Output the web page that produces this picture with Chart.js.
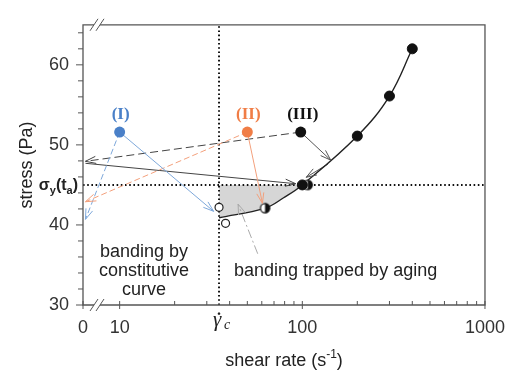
<!DOCTYPE html>
<html>
<head>
<meta charset="utf-8">
<script src="https://cdn.jsdelivr.net/npm/chart.js@4/dist/chart.umd.min.js"></script>
<style>
  html, body { margin: 0; padding: 0; background: #fff; }
</style>
</head>
<body>
<canvas id="flowChart" width="517" height="374"></canvas>
<script>
// ---- data ----
const X0 = 6.3;            // where "0" sits on the broken log axis
const GAMMA_C = 35;        // critical shear rate
const SIGMA_Y = 45;        // yield stress after aging time ta

const xTickValues = [X0, 10, 100, 1000];
const xTickLabels = ['0', '10', '100', '1000'];
const xMinorTicks = [20, 30, 40, 50, 60, 70, 80, 90, 200, 300, 400, 500, 600, 700, 800, 900];
const yTickValues = [30, 40, 50, 60];
const yMinorTicks = [32, 34, 36, 38, 42, 44, 46, 48, 52, 54, 56, 58, 62, 64];

// flow curve
const curveRate   = [35, 62.5, 79, 100, 200, 300, 400];
const curveStress = [40.9, 42.1, 43.4, 45, 51.1, 56.1, 62];
// part of the curve under sigma_y (shaded)
const shadeRate   = [35, 62.5, 79, 100];
const shadeStress = [40.9, 42.1, 43.4, 45];

const filledRate   = [100, 200, 300, 400];
const filledStress = [45, 51.1, 56.1, 62];
const halfRate     = [62.5, 107];
const halfStress   = [42.1, 45];
const openRate     = [35, 38];
const openStress   = [42.2, 40.2];

// starting states (I), (II), (III)
const startRate   = [10, 50, 98];
const startStress = [51.6, 51.6, 51.6];
const startLabels = ['(I)', '(II)', '(III)'];

// arrow paths: [fromRate, fromStress, toRate, toStress], head at "to"
const pathIsolid    = [10, 51.6, 32.7, 41.7];
const pathIdash     = [10, 51.6, 6.5, 40.7];
const pathIIsolid   = [50, 51.6, 60.5, 42.7];
const pathIIdash    = [50, 51.6, 6.5, 42.9];
const pathIIIsolid  = [98, 51.6, 143, 48.1];
const pathIIIdash   = [98, 51.6, 6.5, 47.95];
const pathAlong     = [138, 47.6, 105, 45.95];
const pathBack      = [6.5, 47.7, 92, 45.15];
const pathAging     = [57, 36.4, 44.5, 42.6];

const FONT = '"Liberation Sans", Arial, sans-serif';
const SERIF = '"Liberation Serif", "Times New Roman", serif';
const BLUE = '#4a80c8', BLUE_L = '#7ea8da';
const ORANGE = '#f07d46', ORANGE_L = '#f3a07c';

const pts = (xs, ys) => xs.map((x, i) => ({ x: x, y: ys[i] }));

function halfDot(r) {
    const c = document.createElement('canvas');
    const s = 2 * r + 3;
    c.width = s; c.height = s;
    const g = c.getContext('2d');
    const m = s / 2;
    g.fillStyle = '#fff';
    g.beginPath(); g.arc(m, m, r, 0, Math.PI * 2); g.fill();
    g.fillStyle = '#111';
    g.beginPath(); g.moveTo(m, m); g.arc(m, m, r, -Math.PI / 2, Math.PI / 2); g.closePath(); g.fill();
    g.strokeStyle = '#111'; g.lineWidth = 1.2;
    g.beginPath(); g.arc(m, m, r - 0.4, 0, Math.PI * 2); g.stroke();
    return c;
}

function arrowSet(path, color, dash, width) {
    return {
        data: [{ x: path[0], y: path[1] }, { x: path[2], y: path[3] }],
        borderColor: color, borderWidth: width || 1, borderDash: dash,
        pointRadius: 0, fill: false, tension: 0, clip: false, order: 6,
        arrowHead: true
    };
}

const arrowPlugin = {
    id: 'arrowHeads',
    afterDatasetsDraw(chart) {
        const ctx = chart.ctx;
        chart.data.datasets.forEach((ds, i) => {
            if (!ds.arrowHead) return;
            const d = chart.getDatasetMeta(i).data;
            const a = d[0], b = d[d.length - 1];
            const ang = Math.atan2(b.y - a.y, b.x - a.x);
            const L = 11;
            ctx.save();
            ctx.strokeStyle = ds.borderColor;
            ctx.lineWidth = 1;
            ctx.setLineDash([]);
            [-0.33, 0.33].forEach(da => {
                ctx.beginPath();
                ctx.moveTo(b.x, b.y);
                ctx.lineTo(b.x - L * Math.cos(ang + da), b.y - L * Math.sin(ang + da));
                ctx.stroke();
            });
            ctx.restore();
        });
    }
};

const framePlugin = {
    id: 'frame',
    afterDraw(chart) {
        const ctx = chart.ctx;
        const { left: L, right: R, top: T, bottom: B } = chart.chartArea;
        const xs = chart.scales.x, ys = chart.scales.y;
        ctx.save();
        ctx.strokeStyle = '#555';
        ctx.lineWidth = 1.3;
        ctx.setLineDash([]);
        ctx.beginPath();
        ctx.moveTo(L, T); ctx.lineTo(R, T); ctx.lineTo(R, B); ctx.lineTo(L, B); ctx.closePath();
        ctx.stroke();

        // y ticks (outside)
        ctx.lineWidth = 1;
        yTickValues.forEach(v => {
            const y = ys.getPixelForValue(v);
            ctx.beginPath(); ctx.moveTo(L - 7, y); ctx.lineTo(L, y); ctx.stroke();
        });
        yMinorTicks.forEach(v => {
            const y = ys.getPixelForValue(v);
            ctx.beginPath(); ctx.moveTo(L - 5, y); ctx.lineTo(L, y); ctx.stroke();
        });
        // x ticks
        xTickValues.forEach(v => {
            const x = xs.getPixelForValue(v);
            ctx.beginPath(); ctx.moveTo(x, B - 4); ctx.lineTo(x, B + 4); ctx.stroke();
        });
        xMinorTicks.forEach(v => {
            const x = xs.getPixelForValue(v);
            ctx.beginPath(); ctx.moveTo(x, B - 4); ctx.lineTo(x, B); ctx.stroke();
        });

        // axis break marks
        [T, B].forEach(y => {
            ctx.fillStyle = '#fff';
            ctx.fillRect(L + 11, y - 2, 6, 4);
            ctx.beginPath();
            ctx.moveTo(L + 7, y + 6); ctx.lineTo(L + 15, y - 6);
            ctx.moveTo(L + 13, y + 6); ctx.lineTo(L + 21, y - 6);
            ctx.stroke();
        });

        // axis titles
        ctx.fillStyle = '#222';
        ctx.font = '18px ' + FONT;
        ctx.textAlign = 'center';
        ctx.textBaseline = 'middle';
        ctx.save();
        ctx.translate(27, (T + B) / 2);
        ctx.rotate(-Math.PI / 2);
        ctx.fillText('stress (Pa)', 0, 0);
        ctx.restore();

        const t1 = 'shear rate (s', sup = '-1', t2 = ')';
        ctx.font = '18px ' + FONT;
        const w1 = ctx.measureText(t1).width, w3 = ctx.measureText(t2).width;
        ctx.font = '12px ' + FONT;
        const w2 = ctx.measureText(sup).width;
        let x = (L + R) / 2 - (w1 + w2 + w3) / 2;
        ctx.textAlign = 'left';
        ctx.textBaseline = 'alphabetic';
        ctx.font = '18px ' + FONT;
        ctx.fillText(t1, x, 366);
        ctx.font = '12px ' + FONT;
        ctx.fillText(sup, x + w1, 358);
        ctx.font = '18px ' + FONT;
        ctx.fillText(t2, x + w1 + w2, 366);

        // sigma_y(t_a) label
        const sy = ys.getPixelForValue(SIGMA_Y);
        const parts = [['\u03c3', 16, 0], ['y', 11, 4], ['(t', 16, 0], ['a', 11, 4], [')', 16, 0]];
        let tw = 0;
        parts.forEach(p => { ctx.font = 'bold ' + p[1] + 'px ' + FONT; tw += ctx.measureText(p[0]).width; });
        x = L - 5 - tw;
        parts.forEach(p => {
            ctx.font = 'bold ' + p[1] + 'px ' + FONT;
            ctx.fillText(p[0], x, sy + 5 + p[2]);
            x += ctx.measureText(p[0]).width;
        });

        // gamma_c label under the axis (gamma with a dot above, subscript c)
        const gx = xs.getPixelForValue(GAMMA_C);
        ctx.font = 'italic 21px ' + SERIF;
        ctx.textAlign = 'center';
        ctx.fillText('\u03b3', gx - 2, 326);
        ctx.font = 'bold 16px ' + SERIF;
        ctx.fillText('.', gx, 315);
        ctx.font = 'italic 14px ' + SERIF;
        ctx.textAlign = 'left';
        ctx.fillText('c', gx + 5, 329);

        // state labels
        ctx.font = 'bold 17px ' + SERIF;
        ctx.textAlign = 'center';
        ctx.textBaseline = 'middle';
        const labelColors = [BLUE, ORANGE, '#111'];
        startLabels.forEach((s, i) => {
            ctx.fillStyle = labelColors[i];
            ctx.fillText(s, xs.getPixelForValue(startRate[i]) + (i === 2 ? 2 : 1), ys.getPixelForValue(startStress[i]) - 17);
        });

        // region texts
        ctx.fillStyle = '#222';
        ctx.font = '18px ' + FONT;
        ctx.fillText('banding by', 144, 252);
        ctx.fillText('constitutive', 144, 271);
        ctx.fillText('curve', 144, 290);
        ctx.textAlign = 'left';
        ctx.fillText('banding trapped by aging', 234, 271);
        ctx.restore();
    }
};

const datasets = [
    // start states
    {
        data: pts(startRate, startStress), showLine: false, order: 0,
        pointRadius: 5.5, pointBorderWidth: 0,
        pointBackgroundColor: [BLUE, ORANGE, '#111'], pointBorderColor: [BLUE, ORANGE, '#111']
    },
    {
        data: pts(filledRate, filledStress), showLine: false, order: 1,
        pointRadius: 5, pointBackgroundColor: '#111', pointBorderColor: '#111'
    },
    {
        data: pts(halfRate, halfStress), showLine: false, order: 1,
        pointStyle: halfDot(5), pointRadius: 5
    },
    {
        data: pts(openRate, openStress), showLine: false, order: 2,
        pointRadius: 4, pointBackgroundColor: '#fff', pointBorderColor: '#222', pointBorderWidth: 1.2
    },
    // flow curve
    {
        data: pts(curveRate, curveStress), order: 5, borderColor: '#222', borderWidth: 1.4,
        pointRadius: 0, tension: 0.4, fill: false
    },
    // arrows
    arrowSet(pathIsolid, BLUE_L, []),
    arrowSet(pathIdash, BLUE_L, [6, 3]),
    arrowSet(pathIIsolid, ORANGE_L, []),
    arrowSet(pathIIdash, ORANGE_L, [6, 3]),
    arrowSet(pathIIIsolid, '#555', []),
    arrowSet(pathIIIdash, '#444', [8, 4]),
    arrowSet(pathAlong, '#555', []),
    arrowSet(pathBack, '#444', []),
    arrowSet(pathAging, '#aaa', [9, 3, 2, 3]),
    // reference dotted lines
    {
        data: [{ x: X0, y: SIGMA_Y }, { x: 1000, y: SIGMA_Y }], order: 8,
        borderColor: '#111', borderWidth: 2, borderDash: [1.6, 2.6], pointRadius: 0, fill: false
    },
    {
        data: [{ x: GAMMA_C, y: 30 }, { x: GAMMA_C, y: 65 }], order: 8,
        borderColor: '#111', borderWidth: 2, borderDash: [1.6, 2.6], pointRadius: 0, fill: false
    },
    // shaded area between sigma_y and the curve
    {
        data: pts(shadeRate, shadeStress), order: 9, borderWidth: 0, borderColor: 'rgba(0,0,0,0)',
        backgroundColor: '#d6d6d6', pointRadius: 0, tension: 0.4,
        fill: { value: SIGMA_Y }
    }
];

new Chart(document.getElementById('flowChart'), {
    type: 'line',
    data: { datasets: datasets },
    options: {
        responsive: false,
        animation: false,
        devicePixelRatio: 1,
        layout: { padding: { top: 16, right: 23, left: 0, bottom: 0 } },
        plugins: { legend: { display: false }, tooltip: { enabled: false } },
        scales: {
            x: {
                type: 'logarithmic', min: X0, max: 1000,
                grid: { display: false, drawTicks: false },
                border: { display: false },
                afterBuildTicks: s => { s.ticks = xTickValues.map(v => ({ value: v })); },
                afterFit: s => { s.height = 69; },
                ticks: {
                    autoSkip: false, maxRotation: 0, padding: 12, color: '#333',
                    font: { family: FONT, size: 18 },
                    callback: (v, i) => xTickLabels[i]
                }
            },
            y: {
                type: 'linear', min: 30, max: 65,
                grid: { display: false, drawTicks: false },
                border: { display: false },
                afterBuildTicks: s => { s.ticks = yTickValues.map(v => ({ value: v })); },
                afterFit: s => { s.width = 83; },
                ticks: {
                    padding: 14, color: '#333',
                    font: { family: FONT, size: 18 },
                    callback: v => String(v)
                }
            }
        }
    },
    plugins: [arrowPlugin, framePlugin]
});
</script>
</body>
</html>
